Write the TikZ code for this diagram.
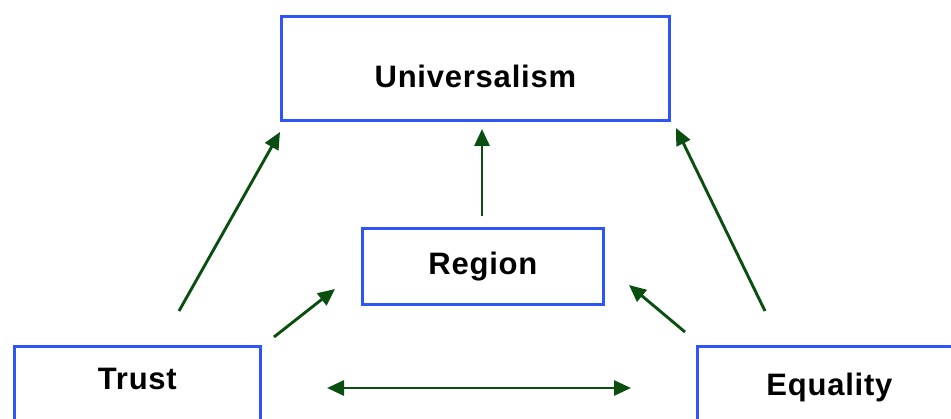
\documentclass[tikz,border=0pt]{standalone}
\usepackage{fontspec}
\setmainfont{Liberation Sans}[LetterSpace=2.5]
\usetikzlibrary{arrows.meta}
\definecolor{boxblue}{RGB}{45,85,250}
\definecolor{arrgreen}{RGB}{10,78,16}
\begin{document}
\begin{tikzpicture}[x=1pt,y=-1pt,
  box/.style={draw=boxblue, line width=2.8pt, anchor=north west, inner sep=0pt,
    align=center, font=\fontsize{31}{36}\selectfont\bfseries},
  link/.style={draw=arrgreen, line width=2.9pt, -{Triangle[length=17pt,width=15pt]}},
  dlink/.style={draw=arrgreen, line width=2.9pt, {Triangle[length=17pt,width=15pt]}-{Triangle[length=17pt,width=15pt]}}]
\useasboundingbox (0,0) rectangle (951,419);
\clip (0,0) rectangle (951,419);
\node[box, text width=388pt, text height=71pt, text depth=33pt] (univ) at (280,15) {Universalism};
\node[box, text width=241pt, text height=46pt, text depth=30pt] (region) at (361,227) {Region};
\node[box, text width=246pt, text height=43pt, text depth=60pt] (trust) at (13,345) {Trust};
\node[box, text width=264pt, text height=49pt, text depth=60pt] (equal) at (696,345) {Equality};
\coordinate (t1) at (179,311);
\coordinate (u1) at (280,132);
\coordinate (e1) at (765,311);
\coordinate (u2) at (676,128);
\coordinate (r1) at (482,216);
\coordinate (u3) at (482,129);
\coordinate (t2) at (274,337);
\coordinate (r2) at (335,289);
\coordinate (e2) at (685,332);
\coordinate (r3) at (629,285);
\coordinate (t3) at (327,388);
\coordinate (e3) at (631,388);
\draw[link] (t1) -- (u1);
\draw[link] (e1) -- (u2);
\draw[link] (r1) -- (u3);
\draw[link] (t2) -- (r2);
\draw[link] (e2) -- (r3);
\draw[dlink] (t3) -- (e3);
\end{tikzpicture}
\end{document}
